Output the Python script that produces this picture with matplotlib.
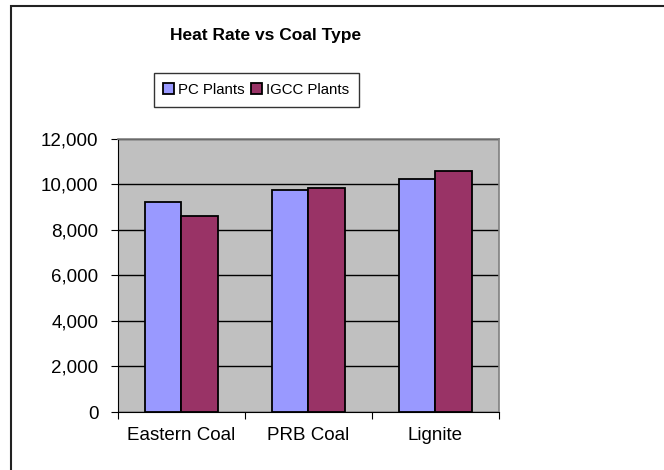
import matplotlib.pyplot as plt
import numpy as np
from matplotlib.patches import Rectangle

plt.rcParams['font.family'] = ['Liberation Sans', 'DejaVu Sans']

categories = ['Eastern Coal', 'PRB Coal', 'Lignite']
pc_plants = [9230, 9760, 10250]
igcc_plants = [8610, 9830, 10580]
yticks = [0, 2000, 4000, 6000, 8000, 10000, 12000]

fig = plt.figure(figsize=(6.64, 4.70), dpi=100)
ax = fig.add_axes([0.1777, 0.1234, 0.5738, 0.5809])

x = np.arange(len(categories))
w = 0.285
ax.bar(x - w / 2, pc_plants, w, color='#9999FF', edgecolor='black', linewidth=1.3,
       label='PC Plants', zorder=3)
ax.bar(x + w / 2, igcc_plants, w, color='#993366', edgecolor='black', linewidth=1.3,
       label='IGCC Plants', zorder=3)

ax.set_facecolor('#C0C0C0')
ax.set_xlim(-0.5, 2.5)
ax.set_ylim(0, 12000)
ax.set_yticks(yticks)
ax.set_yticklabels(['{:,}'.format(v) for v in yticks], fontsize=13.5)
ax.yaxis.grid(True, color='black', linewidth=1)
ax.set_axisbelow(True)

ax.set_xticks([-0.5, 0.5, 1.5, 2.5])
ax.set_xticklabels([])
ax.set_xticks(x, minor=True)
ax.set_xticklabels(categories, minor=True, fontsize=13.5)
ax.tick_params(axis='x', which='minor', length=0, pad=11)
ax.tick_params(axis='x', which='major', length=5, color='black')
ax.tick_params(axis='y', length=5, pad=9)

for s in ['top', 'right']:
    ax.spines[s].set_color('#808080')
    ax.spines[s].set_linewidth(1.2)
ax.spines['left'].set_color('black')
ax.spines['bottom'].set_color('black')

fig.text(0.40, 0.925, 'Heat Rate vs Coal Type', ha='center', va='center',
         fontsize=12.5, fontweight='bold')

leg = ax.legend(loc='center', bbox_to_anchor=(0.386, 0.809),
                bbox_transform=fig.transFigure, ncol=2, fontsize=10.8,
                frameon=True, fancybox=False, handlelength=0.7, handleheight=0.7,
                handletextpad=0.3, columnspacing=0.4, borderpad=0.65,
                borderaxespad=0)
leg.get_frame().set_edgecolor('black')
leg.get_frame().set_linewidth(1)

fig.patches.append(Rectangle((11 / 664, -0.1), 1.2, 1 - 6 / 470 + 0.1,
                             transform=fig.transFigure, fill=False,
                             edgecolor='#222222', linewidth=1.5))

fig.savefig('out.png', dpi=100)
